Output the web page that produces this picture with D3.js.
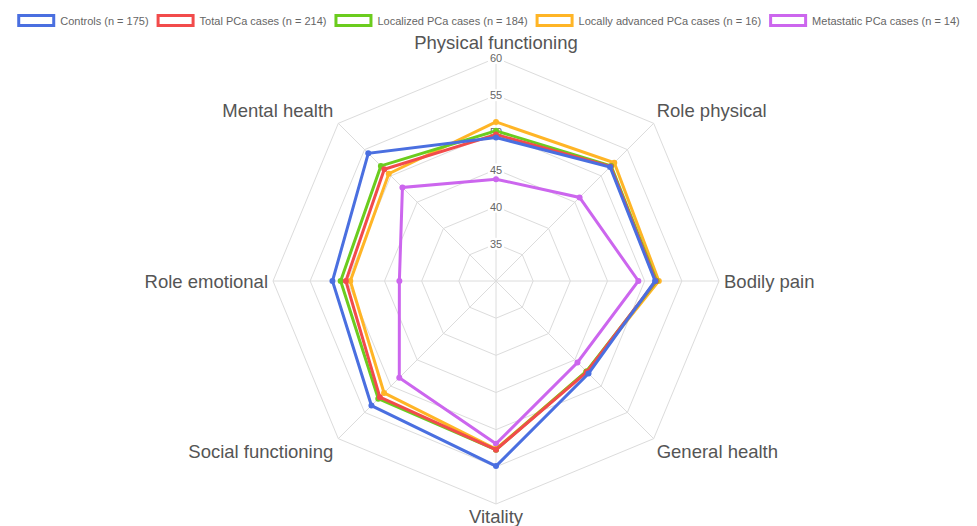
<!DOCTYPE html>
<html>
<head>
<meta charset="utf-8">
<script src="https://cdn.jsdelivr.net/npm/d3@7"></script>
<style>
  body { margin: 0; background: #fff; }
  svg { display: block; font-family: "Liberation Sans", Arial, Helvetica, sans-serif; }
</style>
</head>
<body>
<div id="graphicContainer"></div>
<script>
// axes, clockwise from the top
var axes = ["Physical functioning", "Role physical", "Bodily pain", "General health",
            "Vitality", "Social functioning", "Role emotional", "Mental health"];

var seriesNames = ["Controls (n = 175)", "Total PCa cases (n = 214)", "Localized PCa cases (n = 184)",
                   "Locally advanced PCa cases (n = 16)", "Metastatic PCa cases (n = 14)"];

var controls   = [49.3, 51.7, 51.4, 47.6, 54.9, 53.7, 52.0, 54.3];
var totalPCa   = [49.7, 51.8, 51.5, 47.3, 52.7, 52.1, 50.2, 51.25];
var localized  = [50.2, 51.9, 51.6, 47.2, 52.7, 52.4, 50.9, 51.9];
var advanced   = [51.4, 52.5, 51.9, 47.2, 52.6, 51.3, 49.6, 50.4];
var metastatic = [43.7, 45.9, 49.15, 45.5, 51.9, 48.4, 43.0, 47.8];

var seriesValues = [controls, totalPCa, localized, advanced, metastatic];
var colors = ["#4a6fe0", "#f24b4b", "#6bcc1e", "#ffb526", "#cc66ee"];

var ticks = [35, 40, 45, 50, 55, 60];

var width = 977, height = 526;
var cx = 496, cy = 281, R = 223;

var svg = d3.select("#graphicContainer").append("svg")
    .attr("width", width)
    .attr("height", height);

var r = d3.scaleLinear().domain([30, 60]).range([0, R]);
var angle = d3.scaleLinear().domain([0, axes.length]).range([-Math.PI / 2, 3 * Math.PI / 2]);

function pt(i, v) {
    var a = angle(i);
    return [cx + r(v) * Math.cos(a), cy + r(v) * Math.sin(a)];
}

// grid polygons
var grid = svg.append("g");
ticks.forEach(function(t) {
    grid.append("path")
        .attr("d", d3.line()(axes.map(function(d, i) { return pt(i, t); })) + "Z")
        .attr("fill", "none")
        .attr("stroke", "#dcdcdc")
        .attr("stroke-width", 1);
});

// angle lines
axes.forEach(function(d, i) {
    var p = pt(i, 60);
    grid.append("line")
        .attr("x1", cx).attr("y1", cy)
        .attr("x2", p[0]).attr("y2", p[1])
        .attr("stroke", "#dcdcdc")
        .attr("stroke-width", 1);
});

// tick labels with white backdrop
ticks.forEach(function(t) {
    var y = cy - r(t);
    var g = svg.append("g");
    var txt = g.append("text")
        .attr("x", cx).attr("y", y)
        .attr("text-anchor", "middle")
        .attr("dominant-baseline", "central")
        .attr("font-size", 11)
        .attr("fill", "#666")
        .text(t);
    var bb = txt.node().getBBox();
    g.insert("rect", "text")
        .attr("x", bb.x - 2).attr("y", bb.y)
        .attr("width", bb.width + 4).attr("height", bb.height)
        .attr("fill", "#fff");
});

// axis labels
axes.forEach(function(name, i) {
    var p = pt(i, 60);
    var anchor = "middle", dx = 0, dy = 0;
    if (i === 0) { dy = -16; }
    else if (i === 4) { dy = 12; }
    else if (i === 1 || i === 3) { anchor = "start"; dx = 3; dy = i === 1 ? -13 : 13; }
    else if (i === 5 || i === 7) { anchor = "end"; dx = -5; dy = i === 7 ? -13 : 13; }
    else if (i === 2) { anchor = "start"; dx = 5; }
    else if (i === 6) { anchor = "end"; dx = -5; }
    svg.append("text")
        .attr("x", p[0] + dx).attr("y", p[1] + dy)
        .attr("text-anchor", anchor)
        .attr("dominant-baseline", "central")
        .attr("font-size", 18.5)
        .attr("fill", "#555")
        .text(name);
});

// series, drawn last-first so the first series sits on top
var lines = svg.append("g");
for (var s = seriesValues.length - 1; s >= 0; s--) {
    var vals = seriesValues[s];
    var pts = vals.map(function(v, i) { return pt(i, v); });
    lines.append("path")
        .attr("d", d3.line()(pts) + "Z")
        .attr("fill", "none")
        .attr("stroke", colors[s])
        .attr("stroke-width", 3)
        .attr("stroke-linejoin", "miter");
    lines.selectAll(".pt" + s)
        .data(pts)
        .enter()
        .append("circle")
        .attr("cx", function(d) { return d[0]; })
        .attr("cy", function(d) { return d[1]; })
        .attr("r", 3)
        .attr("fill", colors[s]);
}

// legend, centered
var legend = svg.append("g");
var boxW = 35, boxH = 10, gap = 5, itemGap = 8;
var xPos = 0;
seriesNames.forEach(function(name, i) {
    var item = legend.append("g").attr("transform", "translate(" + xPos + ",0)");
    item.append("rect")
        .attr("x", 1.5).attr("y", 15.5)
        .attr("width", boxW).attr("height", boxH)
        .attr("fill", "#fff")
        .attr("stroke", colors[i])
        .attr("stroke-width", 3);
    var t = item.append("text")
        .attr("x", boxW + 3 + gap).attr("y", 20.5)
        .attr("dominant-baseline", "central")
        .attr("font-size", 11)
        .attr("fill", "#666")
        .text(name);
    xPos += boxW + 3 + gap + t.node().getComputedTextLength() + itemGap;
});
xPos -= itemGap;
legend.attr("transform", "translate(" + ((width - xPos) / 2) + ",0)");
</script>
</body>
</html>
